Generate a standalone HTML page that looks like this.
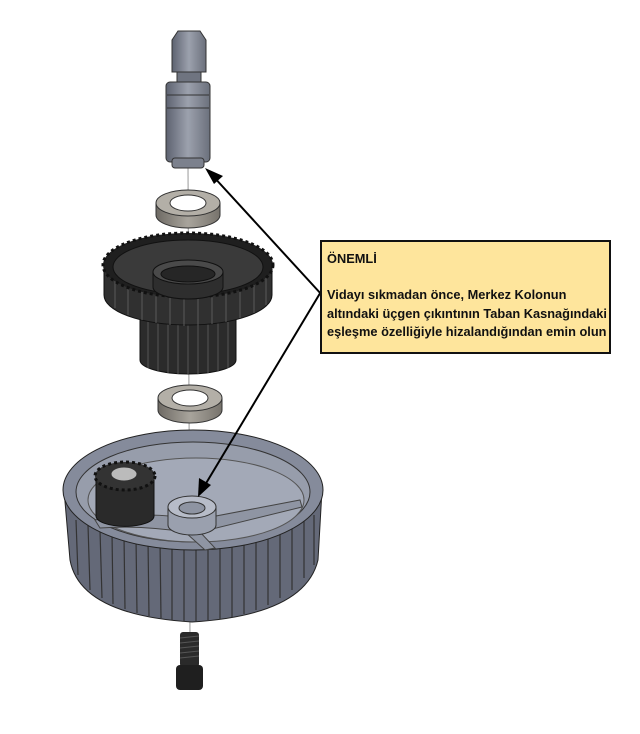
<!DOCTYPE html>
<html><head><meta charset="utf-8"><style>
html,body{margin:0;padding:0;background:#fff;width:640px;height:734px;overflow:hidden}
.box{position:absolute;left:320px;top:240px;width:287px;height:110px;background:#fee59c;border:2px solid #111;overflow:hidden;font-family:"Liberation Sans",sans-serif;font-weight:bold;font-size:12.8px;color:#111;white-space:nowrap}
.box .t{position:absolute;left:5px;top:9px}
.box .b{position:absolute;left:5px;top:44px;line-height:18.5px}
</style></head><body>
<svg width="640" height="734" style="position:absolute;left:0;top:0">
<defs>
<linearGradient id="sh" x1="0" x2="1"><stop offset="0" stop-color="#5d6270"/><stop offset=".5" stop-color="#9ca1ad"/><stop offset="1" stop-color="#6b707c"/></linearGradient>
<linearGradient id="wr" x1="0" x2="1"><stop offset="0" stop-color="#6e6a64"/><stop offset=".5" stop-color="#a8a49c"/><stop offset="1" stop-color="#77736c"/></linearGradient>
</defs>
<line x1="188" y1="165" x2="190" y2="640" stroke="#999" stroke-width="1"/>
<!-- shaft -->
<polygon points="172,40 178,31 200,31 206,40 206,72 172,72" fill="url(#sh)" stroke="#333"/>
<rect x="177" y="72" width="24" height="10" fill="#6f7480" stroke="#333"/>
<rect x="166" y="82" width="44" height="80" rx="4" fill="url(#sh)" stroke="#333"/>
<line x1="167" y1="95" x2="209" y2="95" stroke="#333"/>
<line x1="167" y1="108" x2="209" y2="108" stroke="#333"/>
<rect x="172" y="158" width="32" height="10" rx="3" fill="#7c818d" stroke="#333"/>
<!-- washer 1 -->
<path d="M156,203 v12 a32,13 0 0 0 64,0 v-12" fill="url(#wr)" stroke="#333"/>
<ellipse cx="188" cy="203" rx="32" ry="13" fill="#b3afa7" stroke="#333"/>
<ellipse cx="188" cy="203" rx="18" ry="8" fill="#fff" stroke="#333"/>
<!-- lower small gear -->
<path d="M140,310 v50 a48,14 0 0 0 96,0 v-50z" fill="#2b2b2b" stroke="#111"/>
<g stroke="#555" stroke-width="1">
<line x1="148" y1="315" x2="148" y2="368"/><line x1="158" y1="315" x2="158" y2="371"/><line x1="168" y1="315" x2="168" y2="373"/><line x1="178" y1="315" x2="178" y2="374"/><line x1="188" y1="315" x2="188" y2="374"/><line x1="198" y1="315" x2="198" y2="374"/><line x1="208" y1="315" x2="208" y2="373"/><line x1="218" y1="315" x2="218" y2="371"/><line x1="228" y1="315" x2="228" y2="368"/></g>
<!-- big gear -->
<path d="M104,265 v30 a84,30 0 0 0 168,0 v-30z" fill="#303030" stroke="#111"/>
<g stroke="#5a5a5a">
<line x1="115" y1="280" x2="115" y2="308"/><line x1="128" y1="280" x2="128" y2="315"/><line x1="142" y1="282" x2="142" y2="320"/><line x1="156" y1="282" x2="156" y2="323"/><line x1="170" y1="282" x2="170" y2="325"/><line x1="184" y1="282" x2="184" y2="326"/><line x1="198" y1="282" x2="198" y2="326"/><line x1="212" y1="282" x2="212" y2="324"/><line x1="226" y1="282" x2="226" y2="322"/><line x1="240" y1="282" x2="240" y2="318"/><line x1="254" y1="280" x2="254" y2="313"/><line x1="266" y1="278" x2="266" y2="305"/></g>
<ellipse cx="188" cy="265" rx="85" ry="32" fill="#1f1f1f" stroke="#111" stroke-width="3" stroke-dasharray="3 3"/>
<ellipse cx="188" cy="267" rx="75" ry="27" fill="#3a3a3a" stroke="#111"/>
<path d="M153,272 v15 a35,12 0 0 0 70,0 v-15" fill="#2e2e2e" stroke="#111"/>
<ellipse cx="188" cy="272" rx="35" ry="12" fill="#4a4a4a" stroke="#111"/>
<ellipse cx="188" cy="274" rx="27" ry="8" fill="#262626" stroke="#111"/>
<!-- washer 2 -->
<path d="M158,398 v12 a32,13 0 0 0 64,0 v-12" fill="url(#wr)" stroke="#333"/>
<ellipse cx="190" cy="398" rx="32" ry="13" fill="#b3afa7" stroke="#333"/>
<ellipse cx="190" cy="398" rx="18" ry="8" fill="#fff" stroke="#333"/>
<!-- base pulley -->
<path d="M64,490 L70,560 Q80,615 192,622 Q305,615 318,560 L322,490z" fill="#646978" stroke="#222"/>
<g stroke="#333" stroke-width="1.2">
<line x1="76" y1="520" x2="78" y2="575"/><line x1="88" y1="525" x2="90" y2="590"/><line x1="100" y1="530" x2="102" y2="598"/><line x1="112" y1="533" x2="113" y2="604"/><line x1="124" y1="536" x2="125" y2="609"/><line x1="136" y1="538" x2="137" y2="613"/><line x1="148" y1="540" x2="149" y2="616"/><line x1="160" y1="541" x2="161" y2="618"/><line x1="172" y1="542" x2="172" y2="620"/><line x1="184" y1="542" x2="184" y2="621"/><line x1="196" y1="542" x2="196" y2="621"/><line x1="208" y1="542" x2="208" y2="620"/><line x1="220" y1="541" x2="220" y2="619"/><line x1="232" y1="540" x2="232" y2="617"/><line x1="244" y1="538" x2="244" y2="614"/><line x1="256" y1="536" x2="256" y2="610"/><line x1="268" y1="533" x2="268" y2="605"/><line x1="280" y1="530" x2="280" y2="598"/><line x1="292" y1="526" x2="292" y2="590"/><line x1="304" y1="521" x2="304" y2="578"/><line x1="314" y1="515" x2="314" y2="565"/></g>
<ellipse cx="193" cy="490" rx="130" ry="60" fill="#858b9b" stroke="#222"/>
<ellipse cx="193" cy="492" rx="117" ry="50" fill="#979dab" stroke="#333"/>
<ellipse cx="196" cy="500" rx="108" ry="42" fill="#a3a9b7" stroke="#555"/>
<path d="M95,520 Q150,510 195,520 L300,500 L302,507 L200,532 L215,548 L205,550 L185,532 Q140,525 100,528z" fill="#8f95a3" stroke="#444"/>
<!-- small gear -->
<path d="M96,476 v40 a28,10 0 0 0 58,0 v-40z" fill="#2a2a2a" stroke="#111"/>
<ellipse cx="125" cy="476" rx="30" ry="14" fill="#333" stroke="#111" stroke-width="3" stroke-dasharray="3 3"/>
<ellipse cx="124" cy="474" rx="13" ry="7" fill="#bbb" stroke="#333"/>
<!-- hub -->
<path d="M168,507 v18 a24,10 0 0 0 48,0 v-18" fill="#9aa0ae" stroke="#333"/>
<ellipse cx="192" cy="507" rx="24" ry="11" fill="#b7bcc8" stroke="#333"/>
<ellipse cx="192" cy="508" rx="13" ry="6" fill="#8e94a2" stroke="#333"/>
<!-- screw -->
<rect x="180" y="632" width="19" height="35" rx="3" fill="#2a2a2a"/>
<g stroke="#555"><line x1="180" y1="638" x2="199" y2="636"/><line x1="180" y1="643" x2="199" y2="641"/><line x1="180" y1="648" x2="199" y2="646"/><line x1="180" y1="653" x2="199" y2="651"/><line x1="180" y1="658" x2="199" y2="656"/></g>
<rect x="176" y="665" width="27" height="25" rx="4" fill="#1f1f1f"/>
<!-- arrows -->
<g stroke="#000" stroke-width="2" fill="#000">
<line x1="322" y1="295" x2="212" y2="175"/>
<line x1="322" y1="290" x2="202" y2="490"/>
</g>
<polygon points="205,168 223,176 214,184" fill="#000"/>
<polygon points="198,497 199,478 211,485" fill="#000"/>
</svg>
<div class="box"><div class="t">ÖNEMLİ</div><div class="b">Vidayı sıkmadan önce, Merkez Kolonun<br>altındaki üçgen çıkıntının Taban Kasnağındaki<br>eşleşme özelliğiyle hizalandığından emin olun</div></div>
</body></html>
